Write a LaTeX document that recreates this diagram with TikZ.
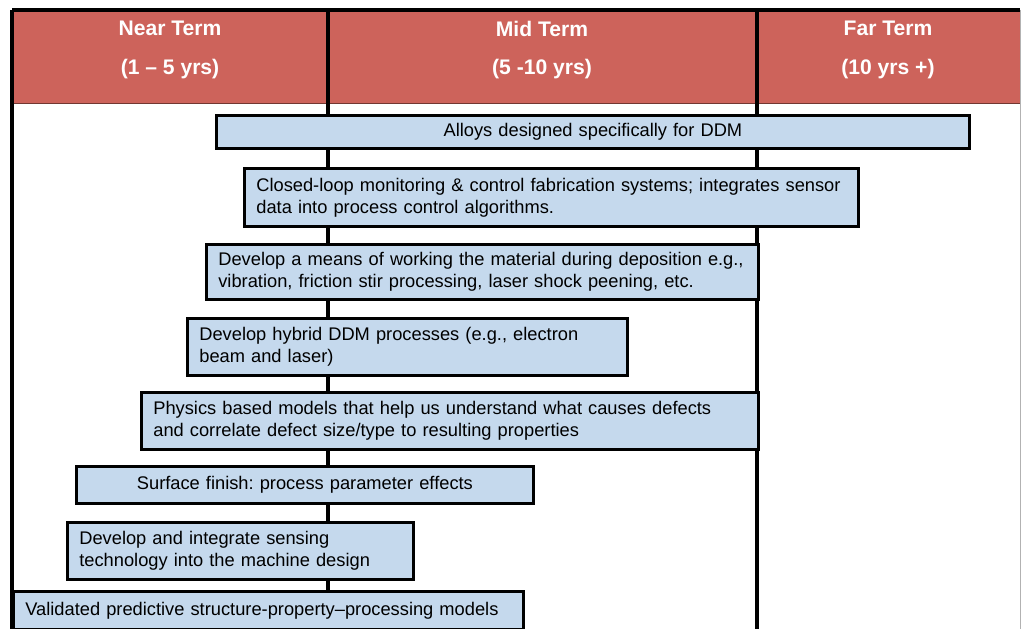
\documentclass[tikz,border=0pt]{standalone}
\usepackage{fontspec}
\setmainfont{Liberation Sans}
\frenchspacing
\definecolor{headred}{RGB}{205,99,91}
\definecolor{barblue}{RGB}{197,217,237}
\tikzset{x=0.025cm, y=-0.025cm, % One unit is one pixel of the chart, y runs down
        headtext/.style={ % Column titles in the red band
            text=white,
            font=\fontsize{15}{27.6}\selectfont\bfseries,
            align=center},
        grid/.style={ % Borders between the time columns
            line width=2.2pt},
        bar/.style={ % A need, boxed over the years it spans
            draw,
            line width=1.9pt,
            fill=barblue,
            anchor=north west,
            inner xsep=0.3cm,
            inner ysep=0pt,
            align=left,
            font=\fontsize{13}{15.6}\selectfont}
        }
\begin{document}
\begin{tikzpicture}
    \useasboundingbox (0,0) rectangle (1021,629);

    % columns
    \coordinate (nearTop) at (12,10);
    \coordinate (midTop) at (328,10);
    \coordinate (farTop) at (757,10);
    \coordinate (endTop) at (1020,10);
    \coordinate (nearBot) at (12,629);
    \coordinate (midBot) at (328,629);
    \coordinate (farBot) at (757,629);
    \coordinate (endBot) at (1020,629);
    \coordinate (bandLeft) at (12,103);
    \coordinate (bandRight) at (1020,103);

    \fill[headred] (nearTop) rectangle (bandRight);
    \draw[headred!55!black, thin] (bandLeft) -- (bandRight);
    \draw[gray!60, thin] (endTop) -- (endBot);
    \draw[grid] (nearTop) -- (endTop);
    \draw[grid] (nearTop) -- (nearBot);
    \draw[grid] (midTop) -- (midBot);
    \draw[grid] (farTop) -- (farBot);

    \node[headtext] (near) at (170,50) {Near Term\\(1 – 5 yrs)};
    \node[headtext] (mid) at (542,50) {Mid Term\\(5 -10 yrs)};
    \node[headtext] (far) at (888,50) {Far Term\\(10 yrs +)};

    % needs
    \node[bar, align=center, text width=18.225cm, minimum height=0.825cm] (alloys) at (215,114)
        {Alloys designed specifically for DDM};
    \node[bar, text width=14.75cm, minimum height=1.45cm] (closedloop) at (243,167)
        {Closed-loop monitoring \& control fabrication systems; integrates sensor\\data into process control algorithms.};
    \node[bar, text width=13.2cm, minimum height=1.375cm] (working) at (205,243)
        {Develop a means of working the material during deposition e.g.,\\vibration, friction stir processing, laser shock peening, etc.};
    \node[bar, text width=10.4cm, minimum height=1.425cm] (hybrid) at (186,317)
        {Develop hybrid DDM processes (e.g., electron\\beam and laser)};
    \node[bar, text width=14.825cm, minimum height=1.425cm] (physics) at (140,391)
        {Physics based models that help us understand what causes defects\\and correlate defect size/type to resulting properties};
    \node[bar, align=center, text width=10.825cm, minimum height=0.925cm] (surface) at (75,465)
        {Surface finish: process parameter effects};
    \node[bar, text width=8.05cm, minimum height=1.425cm] (sensing) at (66,521)
        {Develop and integrate sensing\\technology into the machine design};
    \node[bar, text width=12.15cm, minimum height=0.95cm] (validated) at (12,590)
        {Validated predictive structure-property–processing models};
\end{tikzpicture}
\end{document}
